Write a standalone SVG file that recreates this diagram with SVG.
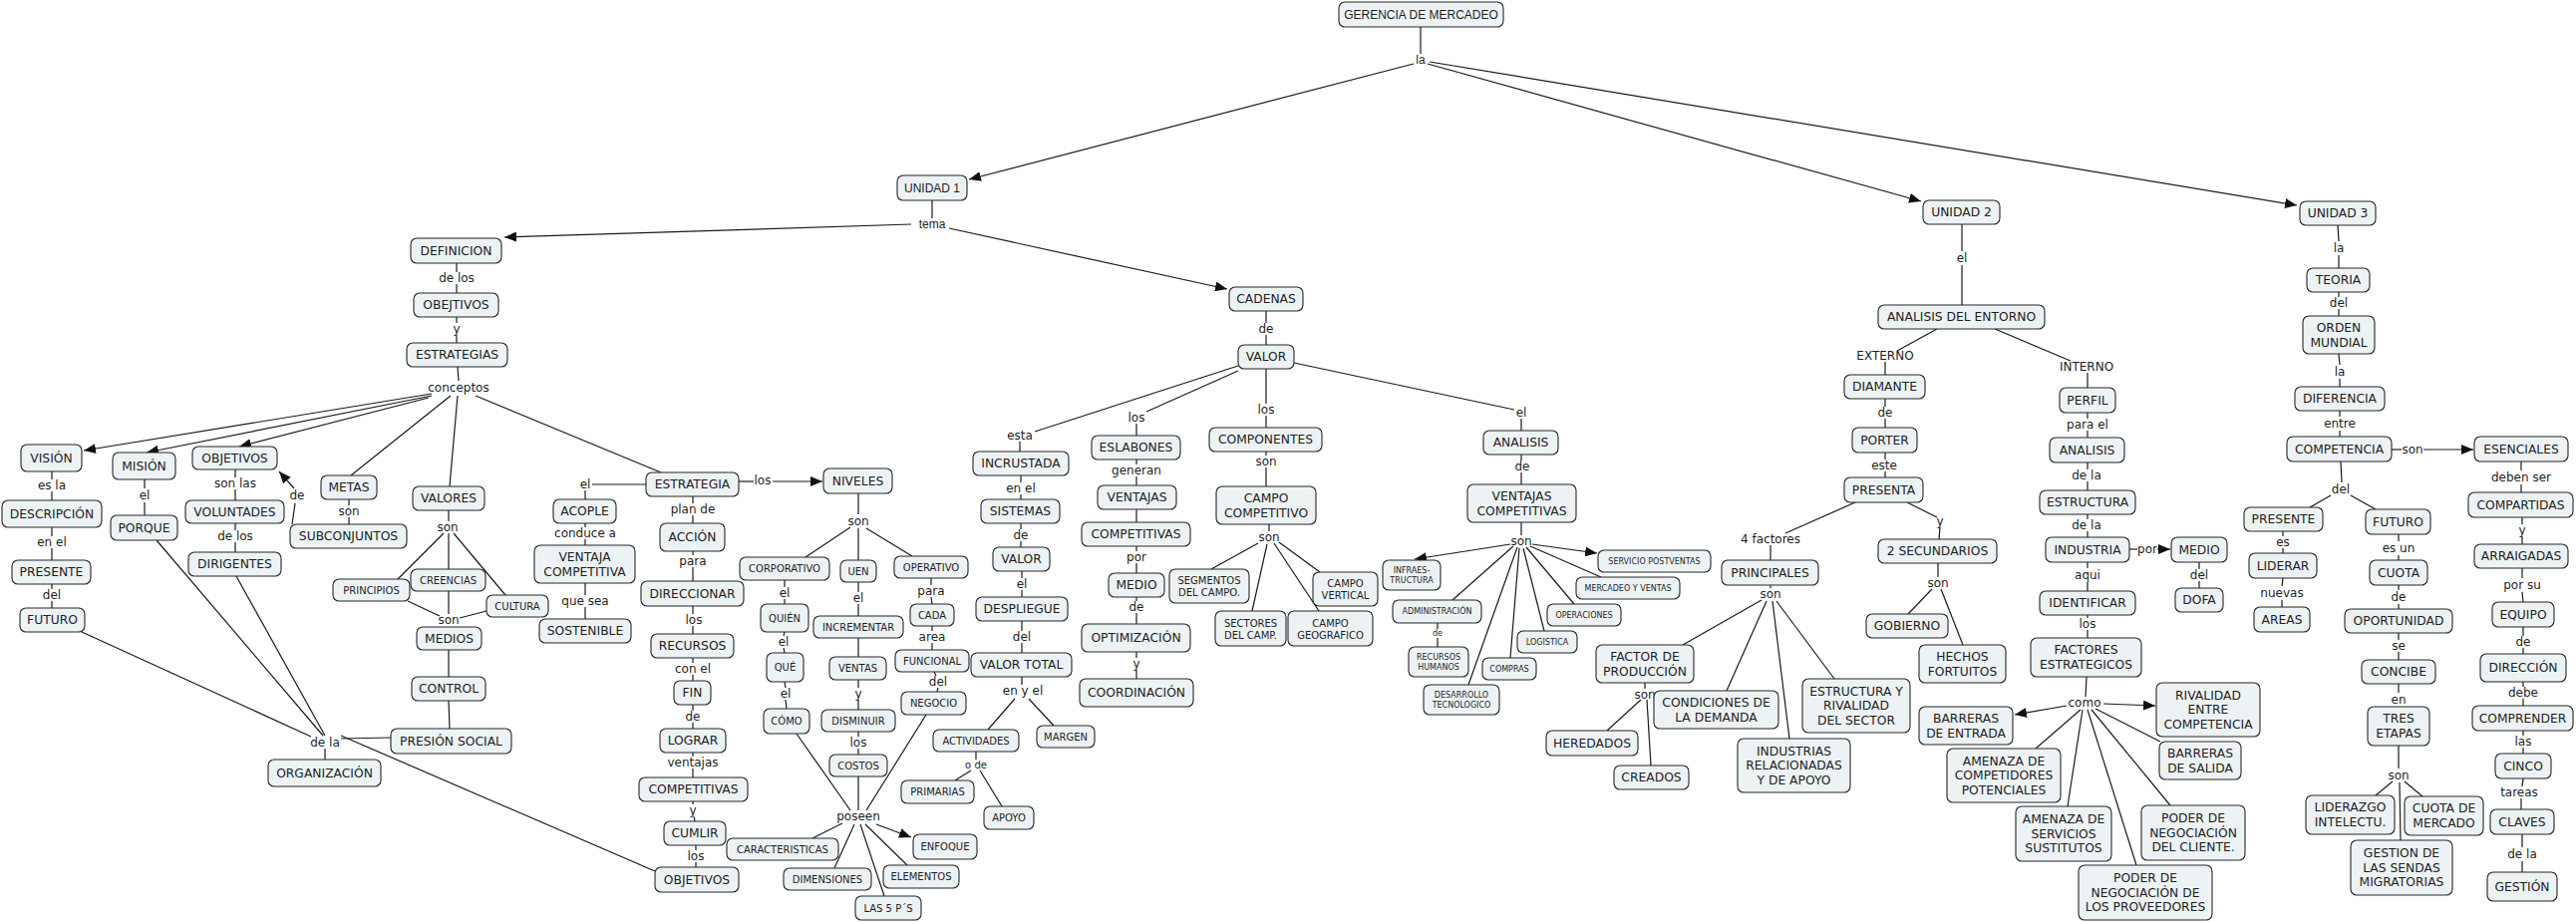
<svg xmlns="http://www.w3.org/2000/svg" width="2584" height="925" viewBox="0 0 2584 925">
<defs>
<marker id="arr" viewBox="0 0 12 10" refX="12" refY="5" markerWidth="12" markerHeight="10" markerUnits="userSpaceOnUse" orient="auto"><path d="M0,0L12,5L0,10z" fill="#111"/></marker>
</defs>
<style>
.nd rect{fill:#edf2f5;stroke:#262626;stroke-width:1.1}
text{font-family:"DejaVu Sans",Verdana,sans-serif;fill:#1e1e1e;text-anchor:middle;dominant-baseline:central;font-size:12.3px}
.s{font-size:10px}
.t{font-size:8px}
.g{font-family:"Liberation Sans",Arial,sans-serif;font-size:12px}
.lk text{font-size:12px}
.lk text.s{font-size:10px}
.lk text.t{font-size:8px}
.lk text.g{font-size:12px}
#connectors line{stroke:#1a1a1a;stroke-width:1.2;fill:none}
#connectors line.ar{marker-end:url(#arr)}
</style>
<rect x="0" y="0" width="2584" height="925" fill="#fff"/>
<g id="connectors">
<line x1="1425" y1="27" x2="1425" y2="54"/>
<line class="ar" x1="1418" y1="64" x2="972" y2="180"/>
<line class="ar" x1="1432" y1="64" x2="1927" y2="202"/>
<line class="ar" x1="1434" y1="62" x2="2304" y2="206"/>
<line x1="935" y1="201" x2="935" y2="219"/>
<line class="ar" x1="914" y1="225" x2="506" y2="238"/>
<line class="ar" x1="952" y1="229" x2="1231" y2="290"/>
<line x1="458" y1="264" x2="458" y2="273"/>
<line x1="458" y1="285" x2="458" y2="294"/>
<line x1="458" y1="318" x2="458" y2="324"/>
<line x1="458" y1="336" x2="458" y2="344"/>
<line x1="459" y1="368" x2="460" y2="382"/>
<line class="ar" x1="433" y1="395" x2="84" y2="452"/>
<line class="ar" x1="433" y1="397" x2="147" y2="454"/>
<line class="ar" x1="430" y1="399" x2="240" y2="448"/>
<line x1="452" y1="397" x2="352" y2="477"/>
<line x1="459" y1="397" x2="451" y2="488"/>
<line x1="477" y1="397" x2="663" y2="474"/>
<line x1="52" y1="473" x2="52" y2="481"/>
<line x1="52" y1="493" x2="52" y2="502"/>
<line x1="52" y1="529" x2="52" y2="538"/>
<line x1="52" y1="550" x2="52" y2="562"/>
<line x1="52" y1="586" x2="52" y2="591"/>
<line x1="52" y1="603" x2="52" y2="610"/>
<line x1="82" y1="634" x2="312" y2="739"/>
<line x1="145" y1="481" x2="145" y2="490"/>
<line x1="145" y1="504" x2="145" y2="517"/>
<line x1="157" y1="542" x2="324" y2="738"/>
<line x1="236" y1="471" x2="236" y2="479"/>
<line x1="236" y1="491" x2="236" y2="502"/>
<line x1="236" y1="525" x2="236" y2="532"/>
<line x1="236" y1="544" x2="236" y2="554"/>
<line x1="237" y1="578" x2="326" y2="738"/>
<line x1="293" y1="526" x2="296" y2="505"/>
<line class="ar" x1="295" y1="490" x2="280" y2="473"/>
<line x1="350" y1="501" x2="350" y2="507"/>
<line x1="350" y1="519" x2="350" y2="526"/>
<line x1="450" y1="512" x2="450" y2="523"/>
<line x1="445" y1="535" x2="399" y2="581"/>
<line x1="450" y1="535" x2="450" y2="571"/>
<line x1="455" y1="535" x2="507" y2="597"/>
<line x1="409" y1="603" x2="441" y2="618"/>
<line x1="450" y1="593" x2="450" y2="616"/>
<line x1="488" y1="613" x2="461" y2="620"/>
<line x1="450" y1="652" x2="450" y2="679"/>
<line x1="450" y1="703" x2="451" y2="731"/>
<line x1="392" y1="740" x2="342" y2="741"/>
<line x1="326" y1="751" x2="326" y2="762"/>
<line x1="657" y1="874" x2="342" y2="738"/>
<line x1="648" y1="486" x2="594" y2="486"/>
<line x1="587" y1="492" x2="587" y2="501"/>
<line x1="587" y1="525" x2="587" y2="529"/>
<line x1="587" y1="541" x2="587" y2="547"/>
<line x1="587" y1="585" x2="587" y2="597"/>
<line x1="587" y1="609" x2="587" y2="621"/>
<line x1="695" y1="498" x2="695" y2="505"/>
<line x1="695" y1="517" x2="695" y2="525"/>
<line x1="695" y1="553" x2="695" y2="557"/>
<line x1="695" y1="569" x2="695" y2="583"/>
<line x1="695" y1="608" x2="695" y2="616"/>
<line x1="695" y1="628" x2="695" y2="636"/>
<line x1="695" y1="660" x2="695" y2="665"/>
<line x1="695" y1="677" x2="695" y2="683"/>
<line x1="695" y1="707" x2="695" y2="713"/>
<line x1="695" y1="725" x2="695" y2="731"/>
<line x1="695" y1="755" x2="695" y2="759"/>
<line x1="695" y1="771" x2="695" y2="780"/>
<line x1="695" y1="804" x2="695" y2="807"/>
<line x1="696" y1="819" x2="697" y2="824"/>
<line x1="698" y1="848" x2="698" y2="853"/>
<line x1="698" y1="865" x2="698" y2="870"/>
<line x1="741" y1="483" x2="756" y2="483"/>
<line class="ar" x1="775" y1="483" x2="825" y2="483"/>
<line x1="861" y1="495" x2="861" y2="516"/>
<line x1="853" y1="529" x2="808" y2="559"/>
<line x1="861" y1="530" x2="861" y2="562"/>
<line x1="869" y1="530" x2="915" y2="558"/>
<line x1="787" y1="582" x2="787" y2="589"/>
<line x1="787" y1="601" x2="787" y2="606"/>
<line x1="787" y1="634" x2="786" y2="638"/>
<line x1="786" y1="650" x2="787" y2="655"/>
<line x1="787" y1="684" x2="788" y2="690"/>
<line x1="788" y1="702" x2="789" y2="711"/>
<line x1="861" y1="584" x2="861" y2="594"/>
<line x1="861" y1="606" x2="861" y2="618"/>
<line x1="861" y1="640" x2="861" y2="659"/>
<line x1="861" y1="682" x2="861" y2="690"/>
<line x1="861" y1="702" x2="861" y2="712"/>
<line x1="861" y1="734" x2="861" y2="739"/>
<line x1="861" y1="751" x2="861" y2="757"/>
<line x1="934" y1="580" x2="934" y2="587"/>
<line x1="934" y1="599" x2="935" y2="606"/>
<line x1="935" y1="628" x2="935" y2="633"/>
<line x1="935" y1="645" x2="935" y2="652"/>
<line x1="937" y1="674" x2="939" y2="678"/>
<line x1="941" y1="690" x2="940" y2="694"/>
<line x1="799" y1="736" x2="853" y2="813"/>
<line x1="861" y1="779" x2="861" y2="813"/>
<line x1="929" y1="717" x2="869" y2="813"/>
<line x1="845" y1="826" x2="815" y2="841"/>
<line x1="857" y1="827" x2="837" y2="871"/>
<line x1="863" y1="827" x2="887" y2="899"/>
<line x1="868" y1="827" x2="910" y2="868"/>
<line class="ar" x1="879" y1="827" x2="914" y2="840"/>
<line x1="1270" y1="312" x2="1270" y2="324"/>
<line x1="1270" y1="336" x2="1270" y2="346"/>
<line x1="1242" y1="367" x2="1038" y2="433"/>
<line x1="1023" y1="443" x2="1023" y2="453"/>
<line x1="1024" y1="477" x2="1024" y2="484"/>
<line x1="1024" y1="496" x2="1024" y2="501"/>
<line x1="1024" y1="525" x2="1024" y2="531"/>
<line x1="1024" y1="543" x2="1024" y2="549"/>
<line x1="1025" y1="573" x2="1025" y2="580"/>
<line x1="1025" y1="592" x2="1025" y2="599"/>
<line x1="1025" y1="623" x2="1025" y2="633"/>
<line x1="1025" y1="645" x2="1025" y2="655"/>
<line x1="1025" y1="679" x2="1025" y2="687"/>
<line x1="1018" y1="701" x2="991" y2="732"/>
<line x1="1032" y1="701" x2="1057" y2="728"/>
<line x1="979" y1="754" x2="979" y2="762"/>
<line x1="974" y1="773" x2="958" y2="783"/>
<line x1="983" y1="773" x2="1005" y2="809"/>
<line x1="1242" y1="372" x2="1150" y2="413"/>
<line x1="1140" y1="425" x2="1140" y2="437"/>
<line x1="1140" y1="461" x2="1140" y2="466"/>
<line x1="1140" y1="478" x2="1140" y2="487"/>
<line x1="1140" y1="511" x2="1140" y2="524"/>
<line x1="1140" y1="548" x2="1140" y2="553"/>
<line x1="1140" y1="565" x2="1140" y2="575"/>
<line x1="1140" y1="599" x2="1140" y2="603"/>
<line x1="1140" y1="615" x2="1140" y2="626"/>
<line x1="1140" y1="654" x2="1140" y2="660"/>
<line x1="1140" y1="672" x2="1140" y2="681"/>
<line x1="1270" y1="370" x2="1270" y2="405"/>
<line x1="1270" y1="417" x2="1270" y2="429"/>
<line x1="1270" y1="453" x2="1270" y2="457"/>
<line x1="1270" y1="469" x2="1270" y2="488"/>
<line x1="1273" y1="526" x2="1273" y2="533"/>
<line x1="1262" y1="545" x2="1215" y2="571"/>
<line x1="1271" y1="546" x2="1256" y2="613"/>
<line x1="1278" y1="545" x2="1323" y2="613"/>
<line x1="1283" y1="544" x2="1324" y2="574"/>
<line x1="1298" y1="364" x2="1519" y2="411"/>
<line x1="1526" y1="420" x2="1526" y2="432"/>
<line x1="1526" y1="456" x2="1526" y2="462"/>
<line x1="1526" y1="474" x2="1526" y2="486"/>
<line x1="1526" y1="524" x2="1526" y2="537"/>
<line class="ar" x1="1515" y1="546" x2="1419" y2="561"/>
<line x1="1518" y1="548" x2="1457" y2="602"/>
<line x1="1522" y1="549" x2="1473" y2="687"/>
<line x1="1524" y1="550" x2="1515" y2="660"/>
<line x1="1528" y1="550" x2="1549" y2="633"/>
<line x1="1531" y1="549" x2="1579" y2="606"/>
<line x1="1535" y1="548" x2="1606" y2="579"/>
<line class="ar" x1="1537" y1="546" x2="1602" y2="555"/>
<line x1="1442" y1="625" x2="1442" y2="631"/>
<line x1="1442" y1="640" x2="1442" y2="649"/>
<line x1="1968" y1="225" x2="1968" y2="252"/>
<line x1="1968" y1="266" x2="1968" y2="306"/>
<line x1="1943" y1="330" x2="1903" y2="352"/>
<line x1="1891" y1="363" x2="1891" y2="376"/>
<line x1="1891" y1="400" x2="1891" y2="408"/>
<line x1="1891" y1="420" x2="1891" y2="429"/>
<line x1="1891" y1="454" x2="1891" y2="461"/>
<line x1="1891" y1="473" x2="1891" y2="479"/>
<line x1="1861" y1="504" x2="1791" y2="535"/>
<line x1="1776" y1="547" x2="1776" y2="562"/>
<line x1="1913" y1="504" x2="1943" y2="519"/>
<line x1="1946" y1="529" x2="1945" y2="541"/>
<line x1="1776" y1="587" x2="1776" y2="590"/>
<line x1="1767" y1="602" x2="1688" y2="647"/>
<line x1="1772" y1="603" x2="1732" y2="693"/>
<line x1="1778" y1="603" x2="1795" y2="741"/>
<line x1="1782" y1="603" x2="1840" y2="681"/>
<line x1="1650" y1="685" x2="1650" y2="691"/>
<line x1="1646" y1="702" x2="1612" y2="733"/>
<line x1="1652" y1="702" x2="1656" y2="768"/>
<line x1="1944" y1="565" x2="1944" y2="579"/>
<line x1="1938" y1="591" x2="1914" y2="616"/>
<line x1="1947" y1="591" x2="1969" y2="647"/>
<line x1="2001" y1="330" x2="2077" y2="362"/>
<line x1="2094" y1="374" x2="2094" y2="389"/>
<line x1="2094" y1="414" x2="2094" y2="420"/>
<line x1="2094" y1="432" x2="2094" y2="439"/>
<line x1="2094" y1="464" x2="2094" y2="471"/>
<line x1="2094" y1="483" x2="2094" y2="492"/>
<line x1="2094" y1="516" x2="2094" y2="521"/>
<line x1="2094" y1="533" x2="2094" y2="539"/>
<line x1="2136" y1="551" x2="2144" y2="551"/>
<line class="ar" x1="2164" y1="551" x2="2177" y2="551"/>
<line x1="2094" y1="564" x2="2094" y2="570"/>
<line x1="2094" y1="584" x2="2094" y2="593"/>
<line x1="2206" y1="564" x2="2206" y2="571"/>
<line x1="2206" y1="583" x2="2206" y2="590"/>
<line x1="2094" y1="617" x2="2094" y2="620"/>
<line x1="2094" y1="632" x2="2094" y2="640"/>
<line x1="2093" y1="679" x2="2092" y2="699"/>
<line class="ar" x1="2073" y1="708" x2="2021" y2="717"/>
<line class="ar" x1="2110" y1="706" x2="2162" y2="708"/>
<line x1="2087" y1="712" x2="2042" y2="751"/>
<line x1="2089" y1="712" x2="2074" y2="809"/>
<line x1="2094" y1="712" x2="2143" y2="868"/>
<line x1="2098" y1="712" x2="2177" y2="808"/>
<line x1="2102" y1="711" x2="2167" y2="744"/>
<line x1="2345" y1="226" x2="2346" y2="242"/>
<line x1="2346" y1="256" x2="2346" y2="269"/>
<line x1="2346" y1="293" x2="2346" y2="298"/>
<line x1="2346" y1="310" x2="2346" y2="317"/>
<line x1="2346" y1="355" x2="2347" y2="366"/>
<line x1="2347" y1="380" x2="2347" y2="388"/>
<line x1="2347" y1="412" x2="2347" y2="418"/>
<line x1="2347" y1="432" x2="2347" y2="438"/>
<line x1="2399" y1="451" x2="2409" y2="451"/>
<line class="ar" x1="2431" y1="451" x2="2481" y2="451"/>
<line x1="2348" y1="463" x2="2349" y2="484"/>
<line x1="2338" y1="497" x2="2317" y2="509"/>
<line x1="2358" y1="497" x2="2383" y2="511"/>
<line x1="2290" y1="533" x2="2290" y2="538"/>
<line x1="2290" y1="550" x2="2290" y2="555"/>
<line x1="2290" y1="580" x2="2289" y2="588"/>
<line x1="2289" y1="602" x2="2289" y2="609"/>
<line x1="2406" y1="536" x2="2406" y2="543"/>
<line x1="2406" y1="557" x2="2406" y2="562"/>
<line x1="2406" y1="587" x2="2406" y2="592"/>
<line x1="2406" y1="606" x2="2406" y2="611"/>
<line x1="2406" y1="635" x2="2406" y2="642"/>
<line x1="2406" y1="654" x2="2406" y2="662"/>
<line x1="2406" y1="686" x2="2406" y2="695"/>
<line x1="2406" y1="748" x2="2406" y2="771"/>
<line x1="2400" y1="784" x2="2383" y2="798"/>
<line x1="2412" y1="784" x2="2430" y2="799"/>
<line x1="2407" y1="785" x2="2408" y2="843"/>
<line x1="2529" y1="463" x2="2529" y2="472"/>
<line x1="2529" y1="486" x2="2529" y2="494"/>
<line x1="2530" y1="519" x2="2530" y2="526"/>
<line x1="2530" y1="538" x2="2530" y2="546"/>
<line x1="2530" y1="570" x2="2530" y2="580"/>
<line x1="2530" y1="594" x2="2531" y2="604"/>
<line x1="2531" y1="629" x2="2531" y2="638"/>
<line x1="2531" y1="650" x2="2531" y2="656"/>
<line x1="2531" y1="684" x2="2531" y2="689"/>
<line x1="2531" y1="701" x2="2531" y2="708"/>
<line x1="2531" y1="733" x2="2531" y2="738"/>
<line x1="2531" y1="750" x2="2531" y2="756"/>
<line x1="2531" y1="781" x2="2530" y2="789"/>
<line x1="2529" y1="801" x2="2529" y2="812"/>
<line x1="2530" y1="837" x2="2530" y2="850"/>
<line x1="2530" y1="864" x2="2530" y2="875"/>
</g>
<g id="labels" class="lk">
<text class="g" x="1425" y="60">la</text>
<text class="g" x="935" y="225">tema</text>
<text x="458" y="279">de los</text>
<text x="458" y="330">y</text>
<text x="460" y="389">conceptos</text>
<text x="52" y="487">es la</text>
<text x="52" y="544">en el</text>
<text x="52" y="597">del</text>
<text x="145" y="497">el</text>
<text x="236" y="485">son las</text>
<text x="236" y="538">de los</text>
<text x="298" y="497">de</text>
<text x="350" y="513">son</text>
<text x="449" y="529">son</text>
<text x="450" y="622">son</text>
<text x="326" y="745">de la</text>
<text x="587" y="486">el</text>
<text x="587" y="535">conduce a</text>
<text x="587" y="603">que sea</text>
<text x="695" y="511">plan de</text>
<text x="695" y="563">para</text>
<text x="696" y="622">los</text>
<text x="695" y="671">con el</text>
<text x="695" y="719">de</text>
<text x="695" y="765">ventajas</text>
<text x="695" y="813">y</text>
<text x="698" y="859">los</text>
<text x="765" y="482">los</text>
<text x="861" y="523">son</text>
<text x="787" y="595">el</text>
<text x="786" y="644">el</text>
<text x="788" y="696">el</text>
<text x="861" y="600">el</text>
<text x="861" y="696">y</text>
<text x="861" y="745">los</text>
<text x="934" y="593">para</text>
<text x="935" y="639">area</text>
<text x="941" y="684">del</text>
<text x="861" y="819">poseen</text>
<text x="1270" y="330">de</text>
<text x="1023" y="437">esta</text>
<text x="1024" y="490">en el</text>
<text x="1024" y="537">de</text>
<text x="1025" y="586">el</text>
<text x="1025" y="639">del</text>
<text x="1026" y="693">en y el</text>
<text class="s" x="979" y="767">o de</text>
<text x="1140" y="419">los</text>
<text x="1140" y="472">generan</text>
<text x="1140" y="559">por</text>
<text x="1140" y="609">de</text>
<text x="1140" y="666">y</text>
<text x="1270" y="411">los</text>
<text x="1270" y="463">son</text>
<text x="1273" y="539">son</text>
<text x="1526" y="414">el</text>
<text x="1527" y="468">de</text>
<text x="1526" y="543">son</text>
<text class="t" x="1442" y="635">de</text>
<text x="1968" y="259">el</text>
<text x="1891" y="357">EXTERNO</text>
<text x="1891" y="414">de</text>
<text x="1890" y="467">este</text>
<text x="1776" y="541">4 factores</text>
<text x="1946" y="523">y</text>
<text x="1944" y="585">son</text>
<text x="1776" y="596">son</text>
<text x="1650" y="697">son</text>
<text x="2093" y="368">INTERNO</text>
<text x="2094" y="426">para el</text>
<text x="2093" y="477">de la</text>
<text x="2093" y="527">de la</text>
<text x="2154" y="551">por</text>
<text x="2094" y="577">aqui</text>
<text x="2206" y="577">del</text>
<text x="2094" y="626">los</text>
<text x="2091" y="705">como</text>
<text x="2346" y="249">la</text>
<text x="2346" y="304">del</text>
<text x="2347" y="373">la</text>
<text x="2347" y="425">entre</text>
<text x="2420" y="451">son</text>
<text x="2348" y="491">del</text>
<text x="2290" y="544">es</text>
<text x="2289" y="595">nuevas</text>
<text x="2406" y="550">es un</text>
<text x="2406" y="599">de</text>
<text x="2406" y="648">se</text>
<text x="2406" y="702">en</text>
<text x="2406" y="778">son</text>
<text x="2529" y="479">deben ser</text>
<text x="2530" y="532">y</text>
<text x="2530" y="587">por su</text>
<text x="2531" y="644">de</text>
<text x="2531" y="695">debe</text>
<text x="2531" y="744">las</text>
<text x="2527" y="795">tareas</text>
<text x="2530" y="857">de la</text>
</g>
<g id="nodes" class="nd">
<g id="gerencia"><rect x="1343" y="2" width="165" height="25" rx="6"/><text class="g" x="1425.5" y="14.5">GERENCIA DE MERCADEO</text></g>
<g id="unidad1"><rect x="900" y="176" width="70" height="25" rx="6"/><text class="g" x="935" y="188.5">UNIDAD 1</text></g>
<g id="unidad2"><rect x="1929" y="201" width="77" height="24" rx="6"/><text x="1967.5" y="213">UNIDAD 2</text></g>
<g id="unidad3"><rect x="2307" y="202" width="76" height="24" rx="6"/><text x="2345" y="214">UNIDAD 3</text></g>
<g id="definicion"><rect x="412" y="239" width="91" height="25" rx="6"/><text x="457.5" y="251.5">DEFINICION</text></g>
<g id="obejtivos"><rect x="415" y="294" width="85" height="24" rx="6"/><text x="457.5" y="306">OBEJTIVOS</text></g>
<g id="estrategias"><rect x="408" y="344" width="101" height="24" rx="6"/><text x="458.5" y="356">ESTRATEGIAS</text></g>
<g id="vision"><rect x="21" y="446" width="61" height="27" rx="6"/><text x="51.5" y="459.5">VISIÓN</text></g>
<g id="descripcion"><rect x="2" y="502" width="100" height="27" rx="6"/><text x="52" y="515.5">DESCRIPCIÓN</text></g>
<g id="presente1"><rect x="12" y="562" width="79" height="24" rx="6"/><text x="51.5" y="574">PRESENTE</text></g>
<g id="futuro1"><rect x="20" y="610" width="65" height="24" rx="6"/><text x="52.5" y="622">FUTURO</text></g>
<g id="mision"><rect x="113" y="454" width="63" height="27" rx="6"/><text x="144.5" y="467.5">MISIÓN</text></g>
<g id="porque"><rect x="111" y="517" width="67" height="25" rx="6"/><text x="144.5" y="529.5">PORQUE</text></g>
<g id="objetivos1"><rect x="193" y="448" width="85" height="23" rx="6"/><text x="235.5" y="459.5">OBJETIVOS</text></g>
<g id="voluntades"><rect x="186" y="502" width="99" height="23" rx="6"/><text x="235.5" y="513.5">VOLUNTADES</text></g>
<g id="dirigentes"><rect x="189" y="554" width="93" height="24" rx="6"/><text x="235.5" y="566">DIRIGENTES</text></g>
<g id="metas"><rect x="322" y="477" width="56" height="24" rx="6"/><text x="350" y="489">METAS</text></g>
<g id="subconjuntos"><rect x="291" y="526" width="117" height="24" rx="6"/><text x="349.5" y="538">SUBCONJUNTOS</text></g>
<g id="valores"><rect x="414" y="488" width="72" height="24" rx="6"/><text x="450" y="500">VALORES</text></g>
<g id="principios"><rect x="334" y="581" width="77" height="22" rx="6"/><text class="s" x="372.5" y="592">PRINCIPIOS</text></g>
<g id="creencias"><rect x="412" y="571" width="75" height="22" rx="6"/><text class="s" x="449.5" y="582">CREENCIAS</text></g>
<g id="cultura"><rect x="488" y="597" width="62" height="22" rx="6"/><text class="s" x="519" y="608">CULTURA</text></g>
<g id="medios"><rect x="418" y="629" width="65" height="23" rx="6"/><text x="450.5" y="640.5">MEDIOS</text></g>
<g id="control"><rect x="413" y="679" width="74" height="24" rx="6"/><text x="450" y="691">CONTROL</text></g>
<g id="presion"><rect x="392" y="731" width="121" height="25" rx="6"/><text x="452.5" y="743.5">PRESIÓN SOCIAL</text></g>
<g id="organizacion"><rect x="269" y="762" width="113" height="27" rx="6"/><text x="325.5" y="775.5">ORGANIZACIÓN</text></g>
<g id="estrategia"><rect x="648" y="474" width="93" height="24" rx="6"/><text x="694.5" y="486">ESTRATEGIA</text></g>
<g id="acople"><rect x="555" y="501" width="63" height="24" rx="6"/><text x="586.5" y="513">ACOPLE</text></g>
<g id="ventaja"><rect x="536" y="547" width="101" height="38" rx="6"/><text><tspan x="586.5" y="558.5">VENTAJA</tspan><tspan x="586.5" y="573.5">COMPETITIVA</tspan></text></g>
<g id="sostenible"><rect x="541" y="621" width="92" height="24" rx="6"/><text x="587" y="633">SOSTENIBLE</text></g>
<g id="accion"><rect x="662" y="525" width="65" height="28" rx="6"/><text x="694.5" y="539">ACCIÓN</text></g>
<g id="direccionar"><rect x="643" y="583" width="103" height="25" rx="6"/><text x="694.5" y="595.5">DIRECCIONAR</text></g>
<g id="recursos"><rect x="653" y="636" width="83" height="24" rx="6"/><text x="694.5" y="648">RECURSOS</text></g>
<g id="fin"><rect x="676" y="683" width="37" height="24" rx="6"/><text x="694.5" y="695">FIN</text></g>
<g id="lograr"><rect x="662" y="731" width="66" height="24" rx="6"/><text x="695" y="743">LOGRAR</text></g>
<g id="competitivas1"><rect x="641" y="780" width="109" height="24" rx="6"/><text x="695.5" y="792">COMPETITIVAS</text></g>
<g id="cumlir"><rect x="666" y="824" width="62" height="24" rx="6"/><text x="697" y="836">CUMLIR</text></g>
<g id="objetivos2"><rect x="657" y="870" width="84" height="25" rx="6"/><text x="699" y="882.5">OBJETIVOS</text></g>
<g id="niveles"><rect x="826" y="470" width="69" height="25" rx="6"/><text x="860.5" y="482.5">NIVELES</text></g>
<g id="corporativo"><rect x="742" y="559" width="90" height="23" rx="6"/><text class="s" x="787" y="570.5">CORPORATIVO</text></g>
<g id="uen"><rect x="843" y="562" width="36" height="22" rx="6"/><text class="s" x="861" y="573">UEN</text></g>
<g id="operativo"><rect x="897" y="558" width="74" height="22" rx="6"/><text class="s" x="934" y="569">OPERATIVO</text></g>
<g id="quien"><rect x="763" y="606" width="48" height="28" rx="6"/><text class="s" x="787" y="620">QUIÉN</text></g>
<g id="que"><rect x="769" y="655" width="37" height="29" rx="6"/><text class="s" x="787.5" y="669.5">QUÉ</text></g>
<g id="como1"><rect x="766" y="711" width="46" height="25" rx="6"/><text class="s" x="789" y="723.5">CÓMO</text></g>
<g id="incrementar"><rect x="816" y="618" width="90" height="22" rx="6"/><text class="s" x="861" y="629">INCREMENTAR</text></g>
<g id="ventas"><rect x="832" y="659" width="57" height="23" rx="6"/><text class="s" x="860.5" y="670.5">VENTAS</text></g>
<g id="disminuir"><rect x="824" y="712" width="74" height="22" rx="6"/><text class="s" x="861" y="723">DISMINUIR</text></g>
<g id="costos"><rect x="832" y="757" width="58" height="22" rx="6"/><text class="s" x="861" y="768">COSTOS</text></g>
<g id="cada"><rect x="913" y="606" width="44" height="22" rx="6"/><text class="s" x="935" y="617">CADA</text></g>
<g id="funcional"><rect x="898" y="652" width="74" height="22" rx="6"/><text class="s" x="935" y="663">FUNCIONAL</text></g>
<g id="negocio"><rect x="904" y="694" width="65" height="23" rx="6"/><text class="s" x="936.5" y="705.5">NEGOCIO</text></g>
<g id="caracteristicas"><rect x="729" y="841" width="112" height="22" rx="6"/><text class="s" x="785" y="852">CARACTERISTICAS</text></g>
<g id="dimensiones"><rect x="786" y="871" width="88" height="22" rx="6"/><text class="s" x="830" y="882">DIMENSIONES</text></g>
<g id="las5ps"><rect x="858" y="899" width="66" height="24" rx="6"/><text class="s" x="891" y="911">LAS 5 P´S</text></g>
<g id="elementos"><rect x="886" y="868" width="76" height="23" rx="6"/><text class="s" x="924" y="879.5">ELEMENTOS</text></g>
<g id="enfoque"><rect x="916" y="837" width="64" height="25" rx="6"/><text class="s" x="948" y="849.5">ENFOQUE</text></g>
<g id="cadenas"><rect x="1233" y="288" width="74" height="24" rx="6"/><text x="1270" y="300">CADENAS</text></g>
<g id="valor1"><rect x="1242" y="346" width="56" height="24" rx="6"/><text x="1270" y="358">VALOR</text></g>
<g id="incrustada"><rect x="976" y="453" width="96" height="24" rx="6"/><text x="1024" y="465">INCRUSTADA</text></g>
<g id="sistemas"><rect x="984" y="501" width="79" height="24" rx="6"/><text x="1023.5" y="513">SISTEMAS</text></g>
<g id="valor2"><rect x="996" y="549" width="57" height="24" rx="6"/><text x="1024.5" y="561">VALOR</text></g>
<g id="despliegue"><rect x="979" y="599" width="92" height="24" rx="6"/><text x="1025" y="611">DESPLIEGUE</text></g>
<g id="valortotal"><rect x="974" y="655" width="101" height="24" rx="6"/><text x="1024.5" y="667">VALOR TOTAL</text></g>
<g id="actividades"><rect x="936" y="732" width="86" height="22" rx="6"/><text class="s" x="979" y="743">ACTIVIDADES</text></g>
<g id="margen"><rect x="1040" y="728" width="58" height="22" rx="6"/><text class="s" x="1069" y="739">MARGEN</text></g>
<g id="primarias"><rect x="904" y="783" width="73" height="23" rx="6"/><text class="s" x="940.5" y="794.5">PRIMARIAS</text></g>
<g id="apoyo"><rect x="987" y="809" width="50" height="23" rx="6"/><text class="s" x="1012" y="820.5">APOYO</text></g>
<g id="eslabones"><rect x="1095" y="437" width="89" height="24" rx="6"/><text x="1139.5" y="449">ESLABONES</text></g>
<g id="ventajas2"><rect x="1101" y="487" width="79" height="24" rx="6"/><text x="1140.5" y="499">VENTAJAS</text></g>
<g id="competitivas2"><rect x="1085" y="524" width="109" height="24" rx="6"/><text x="1139.5" y="536">COMPETITIVAS</text></g>
<g id="medio1"><rect x="1112" y="575" width="56" height="24" rx="6"/><text x="1140" y="587">MEDIO</text></g>
<g id="optimizacion"><rect x="1085" y="626" width="109" height="28" rx="6"/><text x="1139.5" y="640">OPTIMIZACIÓN</text></g>
<g id="coordinacion"><rect x="1083" y="681" width="114" height="28" rx="6"/><text x="1140" y="695">COORDINACIÓN</text></g>
<g id="componentes"><rect x="1213" y="429" width="113" height="24" rx="6"/><text x="1269.5" y="441">COMPONENTES</text></g>
<g id="campocompetitivo"><rect x="1220" y="488" width="100" height="38" rx="6"/><text><tspan x="1270" y="499.5">CAMPO</tspan><tspan x="1270" y="514.5">COMPETITIVO</tspan></text></g>
<g id="segmentos"><rect x="1173" y="571" width="80" height="34" rx="6"/><text class="s"><tspan x="1213" y="582">SEGMENTOS</tspan><tspan x="1213" y="594">DEL CAMPO.</tspan></text></g>
<g id="sectores"><rect x="1219" y="613" width="71" height="35" rx="6"/><text class="s"><tspan x="1254.5" y="624.5">SECTORES</tspan><tspan x="1254.5" y="636.5">DEL CAMP.</tspan></text></g>
<g id="geografico"><rect x="1292" y="613" width="85" height="35" rx="6"/><text class="s"><tspan x="1334.5" y="624.5">CAMPO</tspan><tspan x="1334.5" y="636.5">GEOGRAFICO</tspan></text></g>
<g id="vertical"><rect x="1317" y="574" width="65" height="34" rx="6"/><text class="s"><tspan x="1349.5" y="585">CAMPO</tspan><tspan x="1349.5" y="597">VERTICAL</tspan></text></g>
<g id="analisis1"><rect x="1488" y="432" width="75" height="24" rx="6"/><text x="1525.5" y="444">ANALISIS</text></g>
<g id="ventajascompetitivas"><rect x="1472" y="486" width="109" height="38" rx="6"/><text><tspan x="1526.5" y="497.5">VENTAJAS</tspan><tspan x="1526.5" y="512.5">COMPETITIVAS</tspan></text></g>
<g id="infraestructura"><rect x="1387" y="562" width="58" height="30" rx="6"/><text class="t"><tspan x="1416" y="572">INFRAES-</tspan><tspan x="1416" y="582">TRUCTURA</tspan></text></g>
<g id="administracion"><rect x="1397" y="602" width="89" height="23" rx="6"/><text class="t" x="1441.5" y="613.5">ADMINISTRACIÓN</text></g>
<g id="rrhh"><rect x="1413" y="649" width="60" height="30" rx="6"/><text class="t"><tspan x="1443" y="659">RECURSOS</tspan><tspan x="1443" y="669">HUMANOS</tspan></text></g>
<g id="desarrollo"><rect x="1428" y="687" width="76" height="30" rx="6"/><text class="t"><tspan x="1466" y="697">DESARROLLO</tspan><tspan x="1466" y="707">TECNOLOGICO</tspan></text></g>
<g id="compras"><rect x="1487" y="660" width="54" height="22" rx="6"/><text class="t" x="1514" y="671">COMPRAS</text></g>
<g id="logistica"><rect x="1522" y="633" width="60" height="22" rx="6"/><text class="t" x="1552" y="644">LOGISTICA</text></g>
<g id="operaciones"><rect x="1552" y="606" width="74" height="22" rx="6"/><text class="t" x="1589" y="617">OPERACIONES</text></g>
<g id="mercadeo"><rect x="1581" y="579" width="104" height="22" rx="6"/><text class="t" x="1633" y="590">MERCADEO Y VENTAS</text></g>
<g id="servicio"><rect x="1603" y="552" width="113" height="22" rx="6"/><text class="t" x="1659.5" y="563">SERVICIO POSTVENTAS</text></g>
<g id="principales"><rect x="1727" y="562" width="97" height="25" rx="6"/><text x="1775.5" y="574.5">PRINCIPALES</text></g>
<g id="factor"><rect x="1601" y="647" width="98" height="38" rx="6"/><text><tspan x="1650" y="658.5">FACTOR DE</tspan><tspan x="1650" y="673.5">PRODUCCIÓN</tspan></text></g>
<g id="heredados"><rect x="1551" y="733" width="92" height="25" rx="6"/><text x="1597" y="745.5">HEREDADOS</text></g>
<g id="creados"><rect x="1619" y="768" width="75" height="24" rx="6"/><text x="1656.5" y="780">CREADOS</text></g>
<g id="condiciones"><rect x="1659" y="693" width="125" height="38" rx="6"/><text><tspan x="1721.5" y="704.5">CONDICIONES DE</tspan><tspan x="1721.5" y="719.5">LA DEMANDA</tspan></text></g>
<g id="industrias"><rect x="1743" y="741" width="113" height="54" rx="6"/><text><tspan x="1799.5" y="753.5">INDUSTRIAS</tspan><tspan x="1799.5" y="768">RELACIONADAS</tspan><tspan x="1799.5" y="782.5">Y DE APOYO</tspan></text></g>
<g id="estructuray"><rect x="1808" y="681" width="108" height="54" rx="6"/><text><tspan x="1862" y="693.5">ESTRUCTURA Y</tspan><tspan x="1862" y="708">RIVALIDAD</tspan><tspan x="1862" y="722.5">DEL SECTOR</tspan></text></g>
<g id="entorno"><rect x="1884" y="306" width="167" height="24" rx="6"/><text x="1967.5" y="318">ANALISIS DEL ENTORNO</text></g>
<g id="diamante"><rect x="1850" y="376" width="81" height="24" rx="6"/><text x="1890.5" y="388">DIAMANTE</text></g>
<g id="porter"><rect x="1858" y="429" width="65" height="25" rx="6"/><text x="1890.5" y="441.5">PORTER</text></g>
<g id="presenta"><rect x="1850" y="479" width="79" height="25" rx="6"/><text x="1889.5" y="491.5">PRESENTA</text></g>
<g id="secundarios"><rect x="1884" y="541" width="119" height="24" rx="6"/><text x="1943.5" y="553">2 SECUNDARIOS</text></g>
<g id="gobierno"><rect x="1872" y="616" width="82" height="24" rx="6"/><text x="1913" y="628">GOBIERNO</text></g>
<g id="hechos"><rect x="1925" y="647" width="87" height="38" rx="6"/><text><tspan x="1968.5" y="658.5">HECHOS</tspan><tspan x="1968.5" y="673.5">FORTUITOS</tspan></text></g>
<g id="perfil"><rect x="2066" y="389" width="56" height="25" rx="6"/><text x="2094" y="401.5">PERFIL</text></g>
<g id="analisis2"><rect x="2056" y="439" width="75" height="25" rx="6"/><text x="2093.5" y="451.5">ANALISIS</text></g>
<g id="estructura"><rect x="2046" y="492" width="96" height="24" rx="6"/><text x="2094" y="504">ESTRUCTURA</text></g>
<g id="industria"><rect x="2052" y="539" width="84" height="25" rx="6"/><text x="2094" y="551.5">INDUSTRIA</text></g>
<g id="medio2"><rect x="2178" y="539" width="56" height="25" rx="6"/><text x="2206" y="551.5">MEDIO</text></g>
<g id="dofa"><rect x="2182" y="590" width="48" height="24" rx="6"/><text x="2206" y="602">DOFA</text></g>
<g id="identificar"><rect x="2046" y="593" width="96" height="24" rx="6"/><text x="2094" y="605">IDENTIFICAR</text></g>
<g id="factores"><rect x="2037" y="640" width="111" height="39" rx="6"/><text><tspan x="2092.5" y="652">FACTORES</tspan><tspan x="2092.5" y="667">ESTRATEGICOS</tspan></text></g>
<g id="barrerasentrada"><rect x="1925" y="709" width="94" height="38" rx="6"/><text><tspan x="1972" y="720.5">BARRERAS</tspan><tspan x="1972" y="735.5">DE ENTRADA</tspan></text></g>
<g id="rivalidad"><rect x="2163" y="685" width="104" height="54" rx="6"/><text><tspan x="2215" y="697.5">RIVALIDAD</tspan><tspan x="2215" y="712">ENTRE</tspan><tspan x="2215" y="726.5">COMPETENCIA</tspan></text></g>
<g id="barrerassalida"><rect x="2166" y="744" width="82" height="38" rx="6"/><text><tspan x="2207" y="755.5">BARRERAS</tspan><tspan x="2207" y="770.5">DE SALIDA</tspan></text></g>
<g id="amenazacomp"><rect x="1953" y="751" width="114" height="54" rx="6"/><text><tspan x="2010" y="763.5">AMENAZA DE</tspan><tspan x="2010" y="778">COMPETIDORES</tspan><tspan x="2010" y="792.5">POTENCIALES</tspan></text></g>
<g id="amenazaserv"><rect x="2022" y="809" width="96" height="55" rx="6"/><text><tspan x="2070" y="822">AMENAZA DE</tspan><tspan x="2070" y="836.5">SERVICIOS</tspan><tspan x="2070" y="851">SUSTITUTOS</tspan></text></g>
<g id="podercliente"><rect x="2148" y="808" width="104" height="55" rx="6"/><text><tspan x="2200" y="821">PODER DE</tspan><tspan x="2200" y="835.5">NEGOCIACIÓN</tspan><tspan x="2200" y="850">DEL CLIENTE.</tspan></text></g>
<g id="poderproveedores"><rect x="2085" y="868" width="134" height="55" rx="6"/><text><tspan x="2152" y="881">PODER DE</tspan><tspan x="2152" y="895.5">NEGOCIACIÓN DE</tspan><tspan x="2152" y="910">LOS PROVEEDORES</tspan></text></g>
<g id="teoria"><rect x="2314" y="269" width="63" height="24" rx="6"/><text x="2345.5" y="281">TEORIA</text></g>
<g id="orden"><rect x="2310" y="317" width="72" height="38" rx="6"/><text><tspan x="2346" y="328.5">ORDEN</tspan><tspan x="2346" y="343.5">MUNDIAL</tspan></text></g>
<g id="diferencia"><rect x="2302" y="388" width="90" height="24" rx="6"/><text x="2347" y="400">DIFERENCIA</text></g>
<g id="competencia"><rect x="2294" y="438" width="105" height="25" rx="6"/><text x="2346.5" y="450.5">COMPETENCIA</text></g>
<g id="esenciales"><rect x="2482" y="438" width="94" height="25" rx="6"/><text x="2529" y="450.5">ESENCIALES</text></g>
<g id="compartidas"><rect x="2476" y="494" width="105" height="25" rx="6"/><text x="2528.5" y="506.5">COMPARTIDAS</text></g>
<g id="arraigadas"><rect x="2482" y="546" width="94" height="24" rx="6"/><text x="2529" y="558">ARRAIGADAS</text></g>
<g id="equipo"><rect x="2500" y="604" width="62" height="25" rx="6"/><text x="2531" y="616.5">EQUIPO</text></g>
<g id="direccion"><rect x="2488" y="656" width="86" height="28" rx="6"/><text x="2531" y="670">DIRECCIÓN</text></g>
<g id="comprender"><rect x="2480" y="708" width="101" height="25" rx="6"/><text x="2530.5" y="720.5">COMPRENDER</text></g>
<g id="cinco"><rect x="2503" y="756" width="56" height="25" rx="6"/><text x="2531" y="768.5">CINCO</text></g>
<g id="claves"><rect x="2498" y="812" width="64" height="25" rx="6"/><text x="2530" y="824.5">CLAVES</text></g>
<g id="gestion"><rect x="2495" y="875" width="70" height="29" rx="6"/><text x="2530" y="889.5">GESTIÓN</text></g>
<g id="presente2"><rect x="2251" y="509" width="79" height="24" rx="6"/><text x="2290.5" y="521">PRESENTE</text></g>
<g id="liderar"><rect x="2256" y="555" width="68" height="25" rx="6"/><text x="2290" y="567.5">LIDERAR</text></g>
<g id="areas"><rect x="2261" y="609" width="56" height="25" rx="6"/><text x="2289" y="621.5">AREAS</text></g>
<g id="futuro2"><rect x="2373" y="511" width="65" height="25" rx="6"/><text x="2405.5" y="523.5">FUTURO</text></g>
<g id="cuota"><rect x="2377" y="562" width="58" height="25" rx="6"/><text x="2406" y="574.5">CUOTA</text></g>
<g id="oportunidad"><rect x="2352" y="611" width="108" height="24" rx="6"/><text x="2406" y="623">OPORTUNIDAD</text></g>
<g id="concibe"><rect x="2369" y="662" width="74" height="24" rx="6"/><text x="2406" y="674">CONCIBE</text></g>
<g id="tresetapas"><rect x="2375" y="709" width="62" height="39" rx="6"/><text><tspan x="2406" y="721">TRES</tspan><tspan x="2406" y="736">ETAPAS</tspan></text></g>
<g id="liderazgo"><rect x="2313" y="798" width="89" height="39" rx="6"/><text><tspan x="2357.5" y="810">LIDERAZGO</tspan><tspan x="2357.5" y="825">INTELECTU.</tspan></text></g>
<g id="cuotamercado"><rect x="2412" y="799" width="79" height="39" rx="6"/><text><tspan x="2451.5" y="811">CUOTA DE</tspan><tspan x="2451.5" y="826">MERCADO</tspan></text></g>
<g id="gestionsendas"><rect x="2358" y="843" width="102" height="55" rx="6"/><text><tspan x="2409" y="856">GESTION DE</tspan><tspan x="2409" y="870.5">LAS SENDAS</tspan><tspan x="2409" y="885">MIGRATORIAS</tspan></text></g>
</g>
</svg>
